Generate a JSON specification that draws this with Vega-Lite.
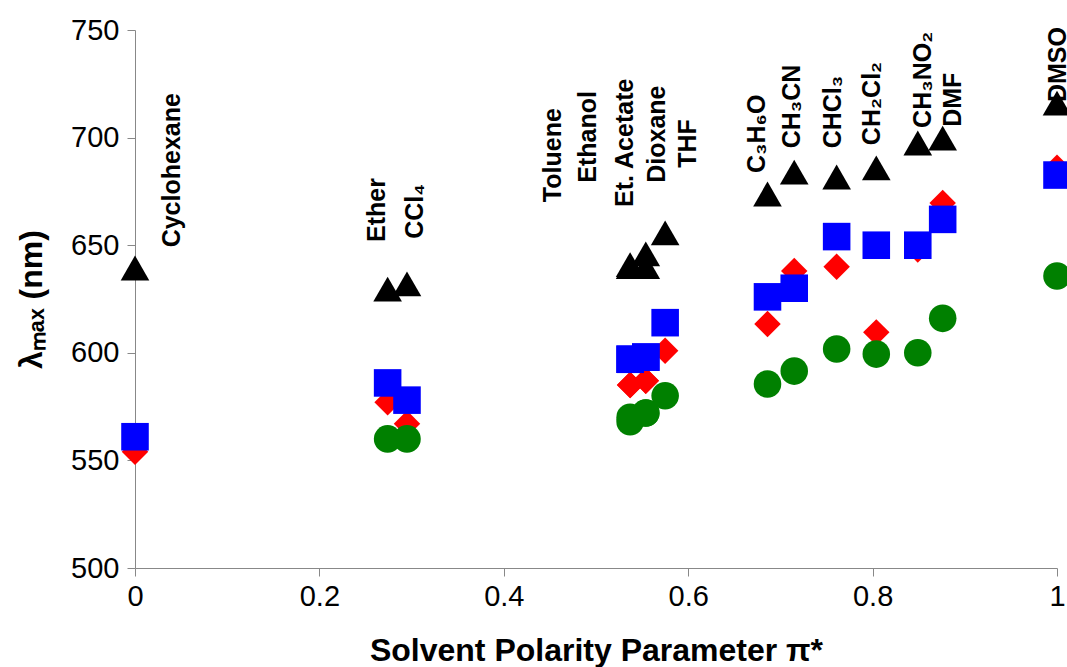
{
  "$schema": "https://vega.github.io/schema/vega-lite/v6.json",
  "width": 922,
  "height": 538,
  "autosize": {"type": "none"},
  "padding": {"left": 135, "top": 30, "right": 10, "bottom": 99},
  "background": "white",
  "config": {
    "view": {"stroke": null},
    "font": "Liberation Sans",
    "axis": {
      "grid": false,
      "domainColor": "#888888",
      "tickColor": "#888888",
      "labelColor": "#000000",
      "titleColor": "#000000",
      "labelFont": "Liberation Sans",
      "titleFont": "Liberation Sans",
      "labelFontSize": 29,
      "titleFontSize": 32,
      "titleFontWeight": "bold",
      "tickSize": 8
    }
  },
  "datasets": {
    "solvents": [
      {"solvent": "Cyclohexane", "pi": 0.0, "triangle": 639.4, "square": 561, "diamond": 554, "circle": null},
      {"solvent": "Ether", "pi": 0.274, "triangle": 629.6, "square": 586, "diamond": 577, "circle": 560},
      {"solvent": "CCl4", "pi": 0.295, "triangle": 632, "square": 578, "diamond": 567, "circle": 560},
      {"solvent": "Toluene", "pi": 0.537, "triangle": 640, "square": 597, "diamond": 585, "circle": 568},
      {"solvent": "Ethanol", "pi": 0.537, "triangle": 641, "square": 597, "diamond": 585, "circle": 570},
      {"solvent": "Et. Acetate", "pi": 0.554, "triangle": 646, "square": 598, "diamond": 587, "circle": 572},
      {"solvent": "Dioxane", "pi": 0.554, "triangle": 640, "square": 598, "diamond": 587, "circle": 572},
      {"solvent": "THF", "pi": 0.575, "triangle": 655.7, "square": 614, "diamond": 601, "circle": 580},
      {"solvent": "C3H6O", "pi": 0.686, "triangle": 673.8, "square": 626, "diamond": 613.4, "circle": 585.5},
      {"solvent": "CH3CN", "pi": 0.715, "triangle": 684, "square": 630, "diamond": 638, "circle": 591.5},
      {"solvent": "CHCl3", "pi": 0.761, "triangle": 681.7, "square": 654, "diamond": 640, "circle": 601.8},
      {"solvent": "CH2Cl2", "pi": 0.804, "triangle": 685.9, "square": 650, "diamond": 609.5, "circle": 599.4},
      {"solvent": "CH3NO2", "pi": 0.849, "triangle": 697.5, "square": 650, "diamond": 648, "circle": 600},
      {"solvent": "DMF", "pi": 0.876, "triangle": 699.8, "square": 662, "diamond": 669.6, "circle": 616},
      {"solvent": "DMSO", "pi": 1.0, "triangle": 716, "square": 682.6, "diamond": 686, "circle": 635.7}
    ],
    "labels": [
      {"label": "Cyclohexane", "pi": 0.04, "lambda": 649},
      {"label": "Ether", "pi": 0.262, "lambda": 651.5},
      {"label": "CCl₄", "pi": 0.304, "lambda": 653},
      {"label": "Toluene", "pi": 0.453, "lambda": 670},
      {"label": "Ethanol", "pi": 0.491, "lambda": 679},
      {"label": "Et. Acetate", "pi": 0.531, "lambda": 667.8},
      {"label": "Dioxane", "pi": 0.566, "lambda": 679},
      {"label": "THF", "pi": 0.6, "lambda": 686},
      {"label": "C₃H₆O", "pi": 0.675, "lambda": 683.5},
      {"label": "CH₃CN", "pi": 0.713, "lambda": 695},
      {"label": "CHCl₃", "pi": 0.757, "lambda": 695},
      {"label": "CH₂Cl₂", "pi": 0.799, "lambda": 696.5},
      {"label": "CH₃NO₂", "pi": 0.855, "lambda": 704.5},
      {"label": "DMF", "pi": 0.887, "lambda": 705},
      {"label": "DMSO", "pi": 1.001, "lambda": 716.5}
    ]
  },
  "layer": [
    {
      "data": {"name": "solvents"},
      "mark": {"type": "point", "shape": "diamond", "filled": true, "color": "#FF0000", "opacity": 1, "size": 700},
      "encoding": {
        "x": {
          "field": "pi", "type": "quantitative",
          "scale": {"domain": [0, 1], "nice": false},
          "axis": {"values": [0, 0.2, 0.4, 0.6, 0.8, 1], "format": "~g", "labelFlush": false, "title": "Solvent Polarity Parameter π*", "labelPadding": 6, "titlePadding": 24}
        },
        "y": {
          "field": "diamond", "type": "quantitative",
          "scale": {"domain": [500, 750], "nice": false},
          "axis": {"values": [500, 550, 600, 650, 700, 750], "title": "λₘₐₓ (nm)", "labelPadding": 8, "titlePadding": 22}
        }
      }
    },
    {
      "data": {"name": "solvents"},
      "mark": {"type": "point", "shape": "circle", "filled": true, "color": "#008000", "opacity": 1, "size": 760},
      "encoding": {
        "x": {"field": "pi", "type": "quantitative"},
        "y": {"field": "circle", "type": "quantitative"}
      }
    },
    {
      "data": {"name": "solvents"},
      "mark": {"type": "point", "shape": "square", "filled": true, "color": "#0000FF", "opacity": 1, "size": 760},
      "encoding": {
        "x": {"field": "pi", "type": "quantitative"},
        "y": {"field": "square", "type": "quantitative"}
      }
    },
    {
      "data": {"name": "solvents"},
      "mark": {"type": "point", "shape": "triangle-up", "filled": true, "color": "#000000", "opacity": 1, "size": 820},
      "encoding": {
        "x": {"field": "pi", "type": "quantitative"},
        "y": {"field": "triangle", "type": "quantitative"}
      }
    },
    {
      "data": {"name": "labels"},
      "mark": {"type": "text", "angle": 270, "align": "left", "baseline": "middle", "font": "Liberation Sans", "fontWeight": "bold", "fontSize": 25, "color": "#000000"},
      "encoding": {
        "x": {"field": "pi", "type": "quantitative"},
        "y": {"field": "lambda", "type": "quantitative"},
        "text": {"field": "label"}
      }
    }
  ]
}
